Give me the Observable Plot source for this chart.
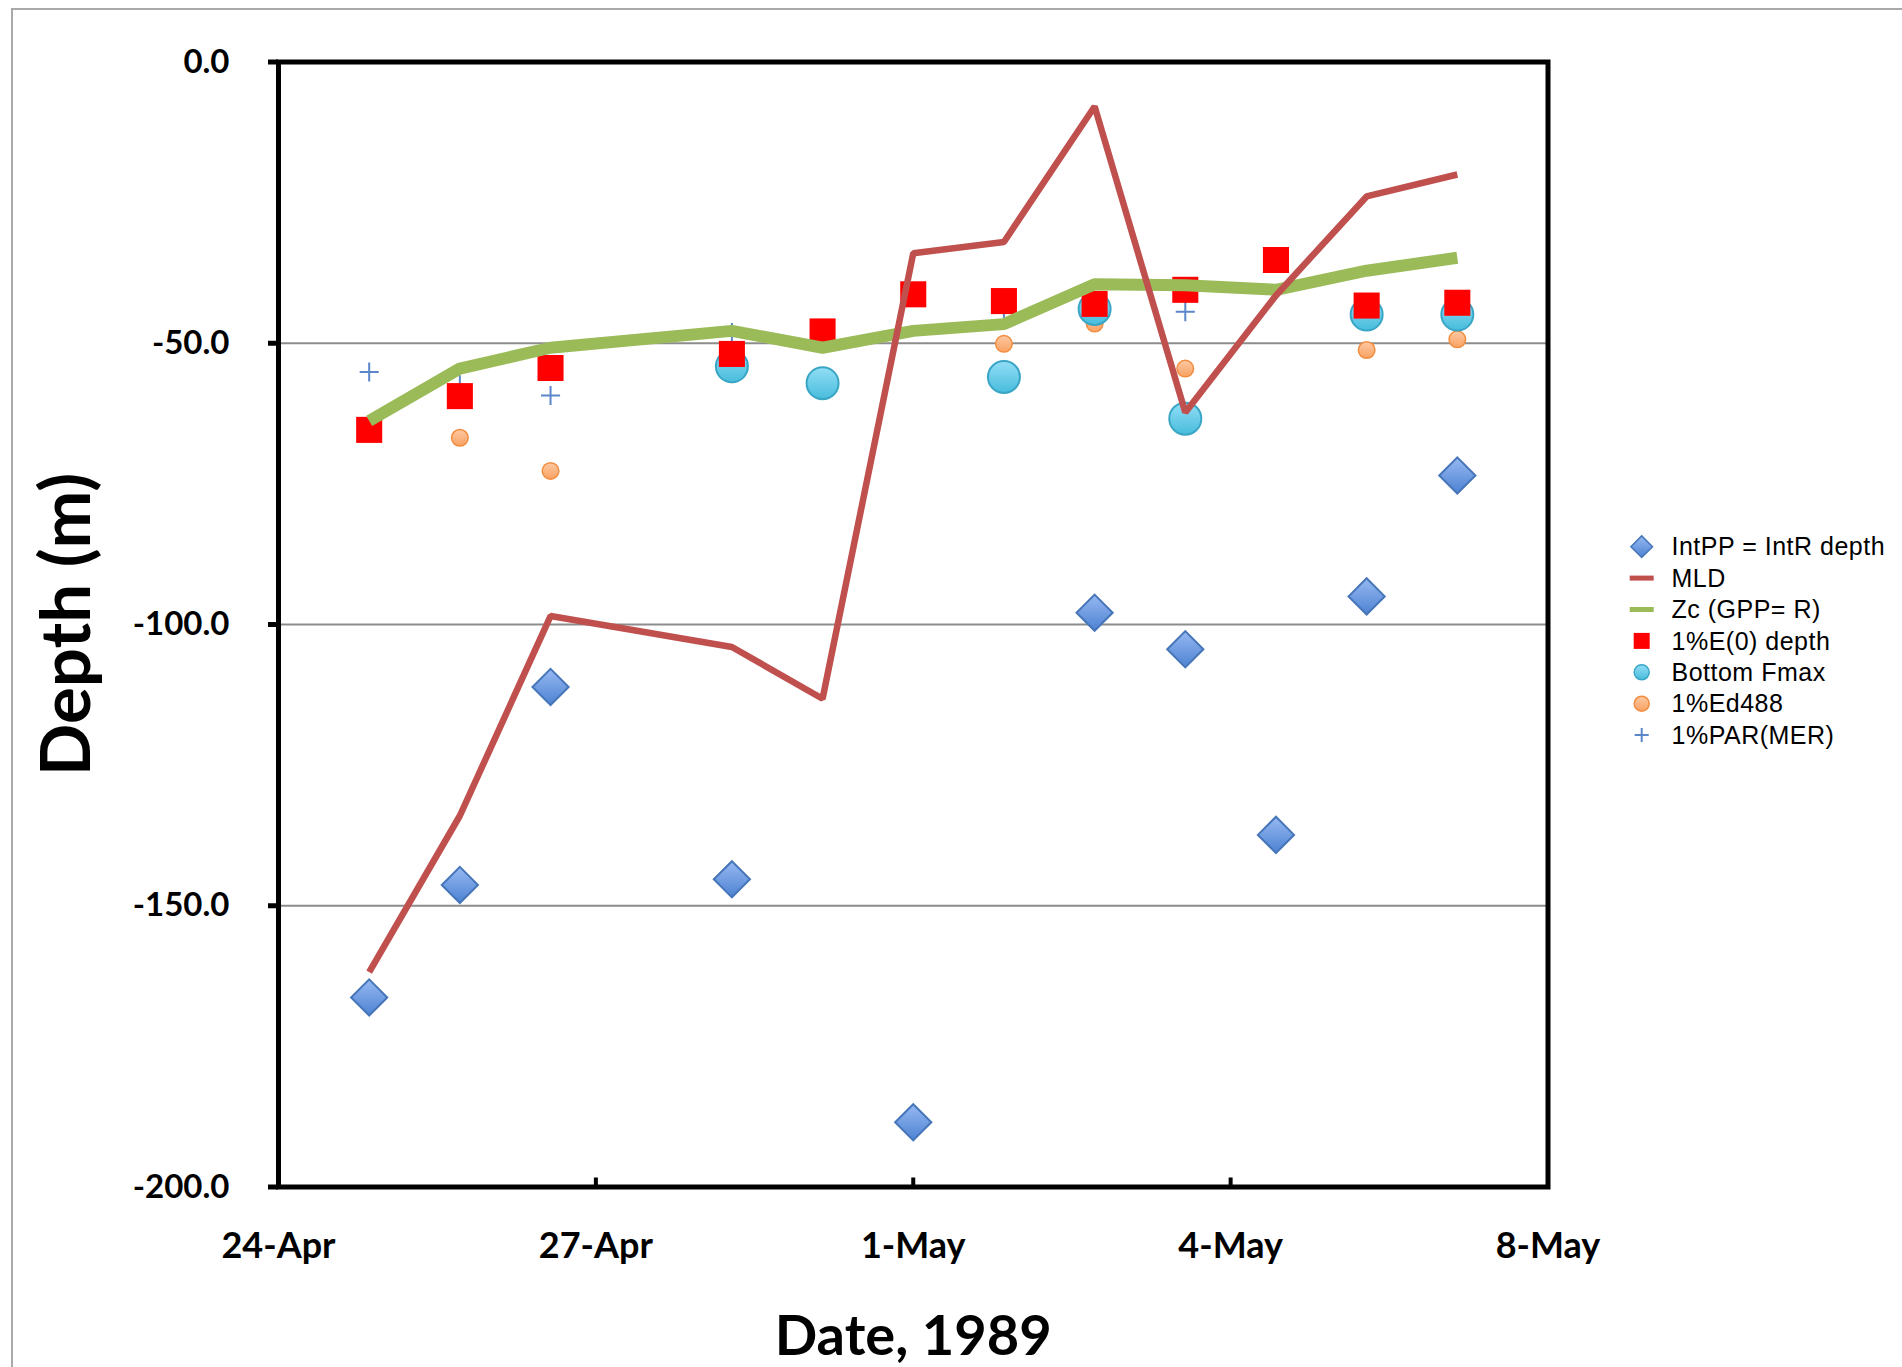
<!DOCTYPE html>
<html>
<head>
<meta charset="utf-8">
<script src="https://cdn.jsdelivr.net/npm/d3@7"></script>
<script src="https://cdn.jsdelivr.net/npm/@observablehq/plot@0.6"></script>
<style>
html, body { margin: 0; padding: 0; background: #fff; }
#wrap { position: relative; width: 1902px; height: 1367px; overflow: hidden; background: #fff; }
#outer { position: absolute; left: 11px; top: 8px; width: 2000px; height: 1500px; border: 2px solid #a9a9a9; box-sizing: border-box; }
#chart { position: absolute; left: 0; top: 0; }
#legend { position: absolute; left: 1620px; top: 525px; overflow: visible; }
#gradDefs { position: absolute; width: 0; height: 0; }
</style>
</head>
<body>
<svg id="gradDefs" width="0" height="0">
  <defs>
    <linearGradient id="gDia" x1="0" y1="0" x2="0" y2="1">
      <stop offset="0" stop-color="#97b9f2"/>
      <stop offset="1" stop-color="#4d82d2"/>
    </linearGradient>
    <linearGradient id="gCya" x1="0" y1="0" x2="0" y2="1">
      <stop offset="0" stop-color="#93def6"/>
      <stop offset="1" stop-color="#47bcdc"/>
    </linearGradient>
    <linearGradient id="gOra" x1="0" y1="0" x2="0" y2="1">
      <stop offset="0" stop-color="#fdc9a2"/>
      <stop offset="1" stop-color="#f9a162"/>
    </linearGradient>
  </defs>
</svg>
<div id="wrap">
  <div id="outer"></div>
  <div id="chart"></div>
  <svg id="legend" width="282" height="240"></svg>
</div>
<script>
// ---- data (depths in m) ----
const dates  = ["1989-04-25","1989-04-26","1989-04-27","1989-04-29","1989-04-30","1989-05-01",
                "1989-05-02","1989-05-03","1989-05-04","1989-05-05","1989-05-06","1989-05-07"];
const intPP  = [-166.3, -146.3, -111.1, -145.3, null, -188.5, null, -97.9, -104.4, -137.4, -95.0, -73.5];
const mld    = [-161.8, -134.0, -98.5, -104.0, -113.2, -34.0, -32.0, -7.9, -62.3, -41.5, -23.9, -20.0];
const zc     = [-63.8, -54.5, -50.8, -47.8, -50.8, -47.8, -46.6, -39.5, -39.7, -40.5, -37.1, -34.8];
const e0     = [-65.4, -59.4, -54.4, -51.9, -47.9, -41.3, -42.5, -43.0, -40.5, -35.2, -43.3, -42.8];
const fmax   = [null, null, null, -54.1, -57.1, null, -56.0, -43.9, -63.4, null, -44.9, -44.9];
const ed488  = [null, -66.8, -72.7, -55.5, null, null, -50.1, -46.5, -54.5, null, -51.2, -49.3];
const par    = [-55.1, -57.4, -59.3, -48.1, null, null, -44.5, null, -44.4, null, null, null];

const xDomain     = ["1989-04-24T00:00:00Z", "1989-05-08T00:00:00Z"];
const xTickDates  = ["1989-04-24T00:00:00Z", "1989-04-27T12:00:00Z", "1989-05-01T00:00:00Z",
                     "1989-05-04T12:00:00Z", "1989-05-08T00:00:00Z"];
const xTickLabels = ["24-Apr", "27-Apr", "1-May", "4-May", "8-May"];
const yTicks      = [0, -50, -100, -150, -200];
const yGrid       = [-50, -100, -150];
const xTitle = "Date, 1989";
const yTitle = "Depth (m)";
const legendLabels = ["IntPP = IntR depth", "MLD", "Zc (GPP= R)", "1%E(0) depth", "Bottom Fmax", "1%Ed488", "1%PAR(MER)"];

// ---- build ----
const rows = dates.map((d, i) => ({
  x: new Date(d + "T00:00:00Z"),
  intPP: intPP[i], mld: mld[i], zc: zc[i], e0: e0[i], fmax: fmax[i], ed488: ed488[i], par: par[i]
}));
const xTicks = xTickDates.map(d => new Date(d));
const yMin = d3.min(yTicks), yMax = d3.max(yTicks);
const fmtX = d => xTickLabels[xTicks.findIndex(t => +t === +d)];

const chart = Plot.plot({
  width: 1902, height: 1367,
  marginLeft: 278, marginRight: 354.5, marginTop: 61.5, marginBottom: 180.5,
  style: { fontFamily: "Lato, sans-serif", background: "transparent", overflow: "visible", color: "#000" },
  x: { type: "utc", domain: xDomain.map(d => new Date(d)) },
  y: { domain: [yMin, yMax] },
  marks: [
    Plot.gridY(yGrid, { stroke: "#8c8c8c", strokeOpacity: 1, strokeWidth: 2 }),
    Plot.dot(rows, { x: "x", y: "par", symbol: "plus", r: 6.2, stroke: "#5b87c9", strokeWidth: 2 }),
    Plot.dot(rows, { x: "x", y: "ed488", r: 8.3, fill: "url(#gOra)", stroke: "#f28d40", strokeWidth: 1.5 }),
    Plot.dot(rows, { x: "x", y: "fmax", r: 16, fill: "url(#gCya)", stroke: "#3aa6c6", strokeWidth: 2 }),
    Plot.dot(rows, { x: "x", y: "e0", symbol: "square", r: 14.7, fill: "#ff0000", stroke: "none" }),
    Plot.line(rows, { x: "x", y: "zc", stroke: "#9bbb59", strokeWidth: 12, strokeLinecap: "butt", strokeLinejoin: "miter" }),
    Plot.line(rows, { x: "x", y: "mld", stroke: "#c0504d", strokeWidth: 6.5, strokeLinecap: "butt", strokeLinejoin: "miter" }),
    Plot.dot(rows, { x: "x", y: "intPP", symbol: "diamond2", r: 16.3, fill: "url(#gDia)", stroke: "#4676b9", strokeWidth: 2 }),
    Plot.frame({ stroke: "#000", strokeWidth: 5 }),
    Plot.ruleX(xTicks, { x: d => d, y1: yMin, y2: yMin, insetBottom: 9, stroke: "#000", strokeWidth: 4 }),
    Plot.axisY(yTicks, { tickSize: 10, tickPadding: 39, tickFormat: d => d.toFixed(1),
      fontSize: 33, fontWeight: "bold", strokeWidth: 5, label: null }),
    Plot.axisX(xTicks, { tickSize: 0, tickPadding: 45, tickFormat: fmtX,
      fontSize: 36, fontWeight: "bold", label: null }),
    Plot.text([yTitle], { text: d => d, frameAnchor: "left", dx: -211, rotate: -90,
      textAnchor: "middle", fontSize: 69, fontWeight: "bold", lineAnchor: "middle" }),
    Plot.text([xTitle], { text: d => d, frameAnchor: "bottom", dy: 150, textAnchor: "middle",
      fontSize: 56, fontWeight: "bold", lineAnchor: "middle" })
  ]
});
document.getElementById("chart").appendChild(chart);

// ---- legend ----
const leg = d3.select("#legend");
const rowY = i => 21.7 + 31.4 * i;
const mx = 21.7, tx = 51.5;
const sw = [
  g => g.append("path").attr("d", d3.symbol(d3.symbolDiamond2, 300)()).attr("fill", "url(#gDia)").attr("stroke", "#4676b9").attr("stroke-width", 1.5),
  g => g.append("line").attr("x1", -12).attr("x2", 12).attr("stroke", "#c0504d").attr("stroke-width", 5),
  g => g.append("line").attr("x1", -12).attr("x2", 12).attr("stroke", "#9bbb59").attr("stroke-width", 5),
  g => g.append("rect").attr("x", -8).attr("y", -8).attr("width", 16).attr("height", 16).attr("fill", "#ff0000"),
  g => g.append("circle").attr("r", 7.5).attr("fill", "url(#gCya)").attr("stroke", "#3aa6c6").attr("stroke-width", 1.5),
  g => g.append("circle").attr("r", 7.5).attr("fill", "url(#gOra)").attr("stroke", "#f28d40").attr("stroke-width", 1.5),
  g => g.append("path").attr("d", d3.symbol(d3.symbolPlus, 66)()).attr("fill", "none").attr("stroke", "#5b87c9").attr("stroke-width", 2)
];
legendLabels.forEach((lab, i) => {
  const g = leg.append("g").attr("transform", `translate(${mx},${rowY(i)})`);
  sw[i](g);
  leg.append("text").attr("x", tx).attr("y", rowY(i)).attr("dy", "0.35em")
    .attr("font-family", "'Liberation Sans', Arial, sans-serif").attr("font-size", 25)
    .attr("letter-spacing", "0.5px").attr("fill", "#000").text(lab);
});
</script>
</body>
</html>
